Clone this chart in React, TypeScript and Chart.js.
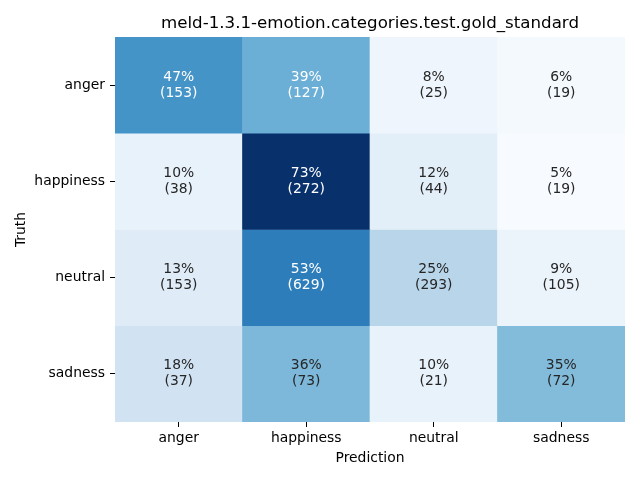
import React, { useEffect, useRef } from "react";
import { Chart, registerables } from "chart.js";

Chart.register(...registerables);

const titleText = "meld-1.3.1-emotion.categories.test.gold_standard";
const xAxisTitle = "Prediction";
const yAxisTitle = "Truth";
const predictions = ["anger", "happiness", "neutral", "sadness"];
const truths = ["anger", "happiness", "neutral", "sadness"];
const percentAnger = [47, 39, 8, 6];
const percentHappiness = [10, 73, 12, 5];
const percentNeutral = [13, 53, 25, 9];
const percentSadness = [18, 36, 10, 35];
const countAnger = [153, 127, 25, 19];
const countHappiness = [38, 272, 44, 19];
const countNeutral = [153, 629, 293, 105];
const countSadness = [37, 73, 21, 72];

const percentRows = [percentAnger, percentHappiness, percentNeutral, percentSadness];
const countRows = [countAnger, countHappiness, countNeutral, countSadness];

const FONT = "'DejaVu Sans', sans-serif";
const BLUES = ["#f7fbff", "#deebf7", "#c6dbef", "#9ecae1", "#6baed6", "#4292c6", "#2171b5", "#08519c", "#08306b"];

function hexToRgb(h: string): number[] {
  const n = parseInt(h.slice(1), 16);
  return [(n >> 16) & 255, (n >> 8) & 255, n & 255];
}

const allPercents = percentRows.flat();
const vmin = Math.min(...allPercents);
const vmax = Math.max(...allPercents);

function bluesRgb(v: number): number[] {
  let t = (v - vmin) / (vmax - vmin);
  t = Math.max(0, Math.min(1, t));
  const pos = t * (BLUES.length - 1);
  const i = Math.min(Math.floor(pos), BLUES.length - 2);
  const f = pos - i;
  const a = hexToRgb(BLUES[i]);
  const b = hexToRgb(BLUES[i + 1]);
  return [0, 1, 2].map((k) => Math.round(a[k] + (b[k] - a[k]) * f));
}

function rgbStr(c: number[]): string {
  return `rgb(${c[0]},${c[1]},${c[2]})`;
}

function luminance(c: number[]): number {
  const lin = c.map((x) => {
    const s = x / 255;
    return s <= 0.03928 ? s / 12.92 : Math.pow((s + 0.055) / 1.055, 2.4);
  });
  return 0.2126 * lin[0] + 0.7152 * lin[1] + 0.0722 * lin[2];
}

const annotatePlugin = {
  id: "annotateCells",
  afterDatasetsDraw(chart: any) {
    const ctx = chart.ctx;
    ctx.save();
    ctx.font = `13.9px ${FONT}`;
    ctx.textAlign = "center";
    ctx.textBaseline = "middle";
    chart.data.datasets.forEach((ds: any, i: number) => {
      const meta = chart.getDatasetMeta(i);
      meta.data.forEach((el: any, j: number) => {
        const cy = (el.y + el.base) / 2;
        const cx = el.x;
        const c = bluesRgb(percentRows[i][j]);
        ctx.fillStyle = luminance(c) > 0.408 ? "#262626" : "#ffffff";
        ctx.fillText(`${percentRows[i][j]}%`, cx, cy - 8);
        ctx.fillText(`(${countRows[i][j]})`, cx, cy + 8);
      });
    });
    ctx.restore();
  },
  afterDraw(chart: any) {
    const ctx = chart.ctx;
    const area = chart.chartArea;
    ctx.save();
    ctx.font = `16.67px ${FONT}`;
    ctx.fillStyle = "#000000";
    ctx.textAlign = "center";
    ctx.textBaseline = "alphabetic";
    ctx.fillText(titleText, (area.left + area.right) / 2, 28);
    ctx.restore();
  },
};

export default function App() {
  const ref = useRef<HTMLCanvasElement | null>(null);

  useEffect(() => {
    if (!ref.current) return;
    const datasets = truths.map((t, i) => ({
      label: t,
      data: predictions.map(() => [i, i + 1]),
      backgroundColor: percentRows[i].map((v) => rgbStr(bluesRgb(v))),
      borderWidth: 0,
      barPercentage: 1,
      categoryPercentage: 1,
      grouped: false,
    }));
    const chart = new Chart(ref.current, {
      type: "bar",
      data: { labels: predictions, datasets: datasets as any },
      plugins: [annotatePlugin],
      options: {
        responsive: false,
        animation: false,
        events: [],
        layout: { padding: { left: 0, right: 15, top: 37, bottom: 0 } },
        plugins: {
          legend: { display: false },
          title: { display: false },
          tooltip: { enabled: false },
        },
        scales: {
          x: {
            type: "category",
            offset: true,
            border: { display: false },
            grid: {
              display: true,
              offset: false,
              drawOnChartArea: false,
              drawTicks: true,
              tickLength: 5,
              tickColor: "#000000",
              tickWidth: 1,
            },
            ticks: {
              color: "#000000",
              font: { family: FONT, size: 13.9 },
              padding: 3,
              maxRotation: 0,
              autoSkip: false,
            },
            title: {
              display: true,
              text: xAxisTitle,
              color: "#000000",
              font: { family: FONT, size: 13.9 },
              padding: { top: 0, bottom: 13 },
            },
            afterFit(scale: any) {
              scale.height = 58;
            },
          },
          y: {
            type: "linear",
            min: 0,
            max: 4,
            reverse: true,
            border: { display: false },
            grid: {
              display: true,
              drawOnChartArea: false,
              drawTicks: true,
              tickLength: 5,
              tickColor: "#000000",
              tickWidth: 1,
            },
            afterBuildTicks(scale: any) {
              scale.ticks = truths.map((_, i) => ({ value: i + 0.5 }));
            },
            ticks: {
              color: "#000000",
              font: { family: FONT, size: 13.9 },
              padding: 5,
              autoSkip: false,
              callback: (v: any) => truths[Math.floor(Number(v))],
            },
            title: {
              display: true,
              text: yAxisTitle,
              color: "#000000",
              font: { family: FONT, size: 13.9 },
              padding: { top: 13, bottom: 0 },
            },
            afterFit(scale: any) {
              scale.width = 115;
            },
          },
        },
      },
    });
    return () => chart.destroy();
  }, []);

  return (
    <div style={{ position: "fixed", left: 0, top: 0, width: 640, height: 480, background: "#fff" }}>
      <canvas ref={ref} width={640} height={480} style={{ width: 640, height: 480 }} />
    </div>
  );
}
